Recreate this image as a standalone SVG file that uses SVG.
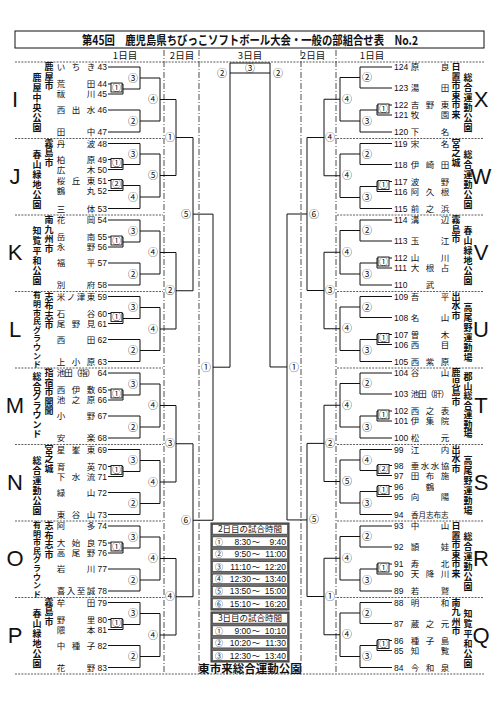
<svg xmlns="http://www.w3.org/2000/svg" width="500" height="707" viewBox="0 0 500 707">
<style>
.t{font-family:"Noto Sans CJK JP","Noto Sans CJK SC",sans-serif;font-size:8.5px;text-anchor:middle;fill:#111}
.n{font-family:"Liberation Sans",Arial,sans-serif;font-size:8.5px;fill:#111}
.ne{text-anchor:end}
.v{font-family:"Noto Sans CJK JP","Noto Sans CJK SC",sans-serif;font-size:9px;font-weight:bold;text-anchor:middle;fill:#111}
.vs{font-size:8px}
.L{font-family:"Liberation Sans",Arial,sans-serif;font-size:22px;text-anchor:middle;fill:#111}
.c{font-family:"Noto Sans CJK JP","Noto Sans CJK SC",sans-serif;font-size:10px;text-anchor:middle;fill:#111}
.cs{font-size:9px}
.h{font-family:"Noto Sans CJK JP","Noto Sans CJK SC",sans-serif;font-size:9.5px;text-anchor:middle;fill:#111}
.th{font-family:"Noto Sans CJK JP","Noto Sans CJK SC",sans-serif;font-size:8.5px;text-anchor:middle;fill:#111}
.tn{font-family:"Noto Sans CJK JP","Noto Sans CJK SC",sans-serif;font-size:8px;text-anchor:middle;fill:#111}
.b{fill:#fff;stroke:#111;stroke-width:0.9}
.br{fill:none;stroke:#111;stroke-width:1}
.dd{stroke:#222;stroke-width:0.8;stroke-dasharray:6 2 1 2;fill:none}
.ds{stroke:#333;stroke-width:0.8;stroke-dasharray:2 1.2;fill:none}
.tt{font-family:"Liberation Sans","Noto Sans CJK JP",sans-serif;font-size:8.5px;fill:#111}
.tc{fill:#fff;stroke:#333;stroke-width:0.6}
</style>
<rect width="500" height="707" fill="#fff"/>
<g id="title">
<rect x="15" y="31" width="469" height="17" fill="#fff" stroke="#111" stroke-width="1"/>
<text x="82" y="44.5" font-family="'Noto Sans CJK JP','Noto Sans CJK SC',sans-serif" font-size="12.5" font-weight="bold" textLength="336" lengthAdjust="spacingAndGlyphs" fill="#111">第45回　鹿児島県ちびっこソフトボール大会・一般の部組合せ表　No.2</text>
</g>
<g id="header">
<text class="h" x="125" y="58.5">1日目</text>
<text class="h" x="182" y="58.5">2日目</text>
<text class="h" x="250" y="58.5">3日目</text>
<text class="h" x="313" y="58.5">2日目</text>
<text class="h" x="372" y="58.5">1日目</text>
</g>
<g id="grid">
<path class="dd" d="M164 50V674M199 50V674M301 50V674M336 50V674"/>
<path class="ds" d="M15 62H484M15 674H484M15 138.5H163M15 215H163M15 291.5H163M15 368H163M15 444.5H163M15 521H163M15 597.5H163M337 138.5H484M337 215H484M337 291.5H484M337 368H484M337 444.5H484M337 521H484M337 597.5H484"/>
</g>
<g id="connectors" class="br">
<path d="M108 67H140V89H123M108 84H123V94H108M140 78H160V121H140M108 110H140V132H108M160 99.5H176"/>
<path d="M108 143.5H140V164.5H123M108 159.5H123V169.5H108M108 180.5H123V190.5H108M123 185.5H140V208.5H108M140 154H160V197H140M160 175.5H176"/>
<path d="M108 220H140V242H123M108 237H123V247H108M140 231H160V274H140M108 263H140V285H108M160 252.5H176"/>
<path d="M108 296.5H140V318.5H123M108 313.5H123V323.5H108M140 307.5H160V350.5H140M108 339.5H140V361.5H108M160 329H176"/>
<path d="M108 373H140V395H123M108 390H123V400H108M140 384H160V427H140M108 416H140V438H108M160 405.5H176"/>
<path d="M108 449.5H140V471.5H123M108 466.5H123V476.5H108M140 460.5H160V503.5H140M108 492.5H140V514.5H108M160 482H176"/>
<path d="M108 526H140V548H123M108 543H123V553H108M140 537H160V580H140M108 569H140V591H108M160 558.5H176"/>
<path d="M108 602.5H140V624.5H123M108 619.5H123V629.5H108M140 613.5H160V656.5H140M108 645.5H140V667.5H108M160 635H176"/>
<path d="M176 99.5V175.5M176 252.5V329M176 405.5V482M176 558.5V635M176 137.5H193M176 290.75H193M176 443.75H193M176 596.75H193M193 137.5V290.75M193 443.75V596.75M193 214.125H213M193 520.25H213M213 214.125V520.25M213 367.19H230M230 367.19V63H270V366.97M230 73H270"/>
<path d="M287 366.97H270M287 214V519.94M287 214H307M287 519.94H307M307 137.5V290.5M307 443.375V596.5M307 137.5H324M307 290.5H324M307 443.375H324M307 596.5H324M324 99.25V175.75M324 252.25V328.75M324 405.25V481.5M324 558.25V634.75"/>
<path d="M392 67H360V88H392M392 105H377V115H392M377 110H360V132H392M360 77.5H340V121H360M340 99.25H324"/>
<path d="M392 143.5H360V164.5H392M392 181.5H377V191.5H392M377 186.5H360V208.5H392M360 154H340V197.5H360M340 175.75H324"/>
<path d="M392 220H360V241H392M392 258H377V268H392M377 263H360V285H392M360 230.5H340V274H360M340 252.25H324"/>
<path d="M392 296.5H360V317.5H392M392 334.5H377V344.5H392M377 339.5H360V361.5H392M360 307H340V350.5H360M340 328.75H324"/>
<path d="M392 373H360V394H392M392 411H377V421H392M377 416H360V438H392M360 383.5H340V427H360M340 405.25H324"/>
<path d="M392 449.5H360V470.5H377M392 465.5H377V475.5H392M392 486.5H377V496.5H392M377 491.5H360V514.5H392M360 460H340V503H360M340 481.5H324"/>
<path d="M392 526H360V547H392M392 564H377V574H392M377 569H360V591H392M360 536.5H340V580H360M340 558.25H324"/>
<path d="M392 602.5H360V623.5H392M392 640.5H377V650.5H392M377 645.5H360V667.5H392M360 613H340V656.5H360M340 634.75H324"/>
</g>
<g id="match-boxes">
<rect class="b" x="111" y="83" width="11" height="9"/><text class="c cs" x="116.5" y="90.7">①</text>
<rect class="b" x="111" y="158.5" width="11" height="9"/><text class="c cs" x="116.5" y="166.2">①</text>
<rect class="b" x="111" y="179.5" width="11" height="9"/><text class="c cs" x="116.5" y="187.2">②</text>
<rect class="b" x="111" y="236" width="11" height="9"/><text class="c cs" x="116.5" y="243.7">①</text>
<rect class="b" x="111" y="312.5" width="11" height="9"/><text class="c cs" x="116.5" y="320.2">①</text>
<rect class="b" x="111" y="389" width="11" height="9"/><text class="c cs" x="116.5" y="396.7">①</text>
<rect class="b" x="111" y="465.5" width="11" height="9"/><text class="c cs" x="116.5" y="473.2">①</text>
<rect class="b" x="111" y="542" width="11" height="9"/><text class="c cs" x="116.5" y="549.7">①</text>
<rect class="b" x="111" y="618.5" width="11" height="9"/><text class="c cs" x="116.5" y="626.2">①</text>
<rect class="b" x="378" y="104" width="11" height="9"/><text class="c cs" x="383.5" y="111.7">①</text>
<rect class="b" x="378" y="180.5" width="11" height="9"/><text class="c cs" x="383.5" y="188.2">①</text>
<rect class="b" x="378" y="257" width="11" height="9"/><text class="c cs" x="383.5" y="264.7">①</text>
<rect class="b" x="378" y="333.5" width="11" height="9"/><text class="c cs" x="383.5" y="341.2">①</text>
<rect class="b" x="378" y="410" width="11" height="9"/><text class="c cs" x="383.5" y="417.7">①</text>
<rect class="b" x="378" y="464.5" width="11" height="9"/><text class="c cs" x="383.5" y="472.2">②</text>
<rect class="b" x="378" y="485.5" width="11" height="9"/><text class="c cs" x="383.5" y="493.2">①</text>
<rect class="b" x="378" y="563" width="11" height="9"/><text class="c cs" x="383.5" y="570.7">①</text>
<rect class="b" x="378" y="639.5" width="11" height="9"/><text class="c cs" x="383.5" y="647.2">①</text>
</g>
<g id="match-labels">
<text class="c" x="133" y="81.5">③</text><text class="c" x="133" y="124.5">②</text><text class="c" x="153" y="103">④</text>
<text class="c" x="133" y="157.5">③</text><text class="c" x="133" y="200.5">④</text><text class="c" x="153" y="179">⑤</text>
<text class="c" x="133" y="234.5">③</text><text class="c" x="133" y="277.5">②</text><text class="c" x="153" y="256">④</text>
<text class="c" x="133" y="311">③</text><text class="c" x="133" y="354">②</text><text class="c" x="153" y="332.5">④</text>
<text class="c" x="133" y="387.5">③</text><text class="c" x="133" y="430.5">②</text><text class="c" x="153" y="409">④</text>
<text class="c" x="133" y="464">③</text><text class="c" x="133" y="507">②</text><text class="c" x="153" y="485.5">④</text>
<text class="c" x="133" y="540.5">③</text><text class="c" x="133" y="583.5">②</text><text class="c" x="153" y="562">④</text>
<text class="c" x="133" y="617">③</text><text class="c" x="133" y="660">②</text><text class="c" x="153" y="638.5">④</text>
<text class="c" x="170" y="141">①</text><text class="c" x="170" y="294.25">②</text><text class="c" x="170" y="447.25">③</text><text class="c" x="170" y="600.25">④</text>
<text class="c" x="186" y="217.6">⑤</text><text class="c" x="186" y="523.75">⑥</text>
<text class="c" x="206" y="370.7">①</text><text class="c" x="222" y="76.5">②</text>
<text class="c" x="250" y="71.5">③</text>
<text class="c" x="278" y="76.5">②</text><text class="c" x="294" y="370.5">①</text>
<text class="c" x="314" y="217.5">⑥</text><text class="c" x="314" y="523.4">⑤</text>
<text class="c" x="330" y="141">④</text><text class="c" x="330" y="294">③</text><text class="c" x="330" y="446.9">②</text><text class="c" x="330" y="600">①</text>
<text class="c" x="367" y="81">②</text><text class="c" x="367" y="124.5">③</text><text class="c" x="347" y="102.75">④</text>
<text class="c" x="367" y="157.5">②</text><text class="c" x="367" y="201">③</text><text class="c" x="347" y="179.25">④</text>
<text class="c" x="367" y="234">②</text><text class="c" x="367" y="277.5">③</text><text class="c" x="347" y="255.75">④</text>
<text class="c" x="367" y="310.5">②</text><text class="c" x="367" y="354">③</text><text class="c" x="347" y="332.25">④</text>
<text class="c" x="367" y="387">②</text><text class="c" x="367" y="430.5">③</text><text class="c" x="347" y="408.75">④</text>
<text class="c" x="367" y="463.5">④</text><text class="c" x="367" y="506.5">③</text><text class="c" x="347" y="485">⑤</text>
<text class="c" x="367" y="540">②</text><text class="c" x="367" y="583.5">③</text><text class="c" x="347" y="561.75">④</text>
<text class="c" x="367" y="616.5">②</text><text class="c" x="367" y="660">③</text><text class="c" x="347" y="638.25">④</text>
</g>
<g id="group-I">
<text class="L" x="15" y="107">I</text>
<text class="v" x="49 49 49" y="70.2 79.7 89.2">鹿屋市</text>
<text class="v" x="37 37 37 37 37 37" y="81.2 91.2 101.2 111.2 121.2 131.2">鹿屋中央公園</text>
<text class="n ne" x="107" y="70">43</text><text class="t" x="61 76 91" y="70">いちき</text>
<text class="n ne" x="107" y="87">44</text><text class="t" x="61 91" y="87">荒田</text>
<text class="n ne" x="107" y="97">45</text><text class="t" x="61 91" y="97">祓川</text>
<text class="n ne" x="107" y="113">46</text><text class="t" x="61 76 91" y="113">西出水</text>
<text class="n ne" x="107" y="135">47</text><text class="t" x="61 91" y="135">田中</text>
</g>
<g id="group-J">
<text class="L" x="15" y="183.5">J</text>
<text class="v" x="49 49 49" y="146.7 156.2 165.7">霧島市</text>
<text class="v" x="37 37 37 37 37 37" y="157.7 167.7 177.7 187.7 197.7 207.7">春山緑地公園</text>
<text class="n ne" x="107" y="146.5">48</text><text class="t" x="61 91" y="146.5">丹波</text>
<text class="n ne" x="107" y="162.5">49</text><text class="t" x="61 91" y="162.5">柏原</text>
<text class="n ne" x="107" y="172.5">50</text><text class="t" x="61 91" y="172.5">広木</text>
<text class="n ne" x="107" y="183.5">51</text><text class="t" x="61 76 91" y="183.5">桜丘東</text>
<text class="n ne" x="107" y="193.5">52</text><text class="t" x="61 91" y="193.5">鶴丸</text>
<text class="n ne" x="107" y="211.5">53</text><text class="t" x="61 91" y="211.5">三体</text>
</g>
<g id="group-K">
<text class="L" x="15" y="260">K</text>
<text class="v" x="49 49 49 49" y="223.2 232.7 242.2 251.7">南九州市</text>
<text class="v" x="37 37 37 37 37 37" y="234.2 244.2 254.2 264.2 274.2 284.2">知覧平和公園</text>
<text class="n ne" x="107" y="223">54</text><text class="t" x="61 91" y="223">花岡</text>
<text class="n ne" x="107" y="240">55</text><text class="t" x="61 91" y="240">岳南</text>
<text class="n ne" x="107" y="250">56</text><text class="t" x="61 91" y="250">永野</text>
<text class="n ne" x="107" y="266">57</text><text class="t" x="61 91" y="266">福平</text>
<text class="n ne" x="107" y="288">58</text><text class="t" x="61 91" y="288">別府</text>
</g>
<g id="group-L">
<text class="L" x="15" y="336.5">L</text>
<text class="v" x="49 49 49 49" y="299.7 309.2 318.7 328.2">志布志市</text>
<text class="v vs" x="37 37 37 37 37 37 37 37 37" y="298.4 307 315.6 324.2 332.8 341.4 350 358.6 367.2">有明市民グラウンド</text>
<text class="n ne" x="107" y="299.5">59</text><text class="t" x="61 71 81 91" y="299.5">米ノ津東</text>
<text class="n ne" x="107" y="316.5">60</text><text class="t" x="61 91" y="316.5">石谷</text>
<text class="n ne" x="107" y="326.5">61</text><text class="t" x="61 76 91" y="326.5">尾野見</text>
<text class="n ne" x="107" y="342.5">62</text><text class="t" x="61 91" y="342.5">西田</text>
<text class="n ne" x="107" y="364.5">63</text><text class="t" x="61 76 91" y="364.5">上小原</text>
</g>
<g id="group-M">
<text class="L" x="15" y="413">M</text>
<text class="v" x="49 49 49 49 49" y="376.2 385.7 395.2 404.7 414.2">指宿市開聞</text>
<text class="v" x="37 37 37 37 37 37 37" y="380.2 389.7 399.2 408.7 418.2 427.7 437.2">総合グラウンド</text>
<text class="n ne" x="107" y="376">64</text><text class="t" x="61 68.5 76 83.5 91" y="376">池田（指）</text>
<text class="n ne" x="107" y="393">65</text><text class="t" x="61 76 91" y="393">西伊敷</text>
<text class="n ne" x="107" y="403">66</text><text class="t" x="61 76 91" y="403">池之原</text>
<text class="n ne" x="107" y="419">67</text><text class="t" x="61 91" y="419">小野</text>
<text class="n ne" x="107" y="441">68</text><text class="t" x="61 91" y="441">安楽</text>
</g>
<g id="group-N">
<text class="L" x="15" y="489.5">N</text>
<text class="v" x="49 49 49" y="452.7 462.2 471.7">宮之城</text>
<text class="v" x="37 37 37 37 37 37" y="463.7 473.7 483.7 493.7 503.7 513.7">総合運動公園</text>
<text class="n ne" x="107" y="452.5">69</text><text class="t" x="61 76 91" y="452.5">星峯東</text>
<text class="n ne" x="107" y="469.5">70</text><text class="t" x="61 91" y="469.5">育英</text>
<text class="n ne" x="107" y="479.5">71</text><text class="t" x="61 76 91" y="479.5">下水流</text>
<text class="n ne" x="107" y="495.5">72</text><text class="t" x="61 91" y="495.5">緑山</text>
<text class="n ne" x="107" y="517.5">73</text><text class="t" x="61 76 91" y="517.5">東谷山</text>
</g>
<g id="group-O">
<text class="L" x="15" y="566">O</text>
<text class="v" x="49 49 49 49" y="529.2 538.7 548.2 557.7">志布志市</text>
<text class="v vs" x="37 37 37 37 37 37 37 37 37" y="527.9 536.5 545.1 553.7 562.3 570.9 579.5 588.1 596.7">有明市民グラウンド</text>
<text class="n ne" x="107" y="529">74</text><text class="t" x="61 91" y="529">阿多</text>
<text class="n ne" x="107" y="546">75</text><text class="t" x="61 76 91" y="546">大始良</text>
<text class="n ne" x="107" y="556">76</text><text class="t" x="61 76 91" y="556">高尾野</text>
<text class="n ne" x="107" y="572">77</text><text class="t" x="61 91" y="572">岩川</text>
<text class="n ne" x="107" y="594">78</text><text class="t" x="61 71 81 91" y="594">喜入至誠</text>
</g>
<g id="group-P">
<text class="L" x="15" y="642.5">P</text>
<text class="v" x="49 49 49" y="605.7 615.2 624.7">霧島市</text>
<text class="v" x="37 37 37 37 37 37" y="616.7 626.7 636.7 646.7 656.7 666.7">春山緑地公園</text>
<text class="n ne" x="107" y="605.5">79</text><text class="t" x="61 91" y="605.5">牟田</text>
<text class="n ne" x="107" y="622.5">80</text><text class="t" x="61 91" y="622.5">野里</text>
<text class="n ne" x="107" y="632.5">81</text><text class="t" x="61 91" y="632.5">隈本</text>
<text class="n ne" x="107" y="648.5">82</text><text class="t" x="61 76 91" y="648.5">中種子</text>
<text class="n ne" x="107" y="670.5">83</text><text class="t" x="61 91" y="670.5">花野</text>
</g>
<g id="group-X">
<text class="L" x="481" y="107">X</text>
<text class="v" x="456 456 456 456 456 456" y="70.2 79.7 89.2 98.7 108.2 117.7">日置市東市来</text>
<text class="v" x="468 468 468 468 468 468" y="81.2 91.2 101.2 111.2 121.2 131.2">総合運動公園</text>
<text class="n" x="394" y="70">124</text><text class="t" x="415 445" y="70">原良</text>
<text class="n" x="394" y="91">123</text><text class="t" x="415 445" y="91">湯田</text>
<text class="n" x="394" y="108">122</text><text class="t" x="415 430 445" y="108">吉野東</text>
<text class="n" x="394" y="118">121</text><text class="t" x="415 445" y="118">牧園</text>
<text class="n" x="394" y="135">120</text><text class="t" x="415 445" y="135">下名</text>
</g>
<g id="group-W">
<text class="L" x="481" y="183.5">W</text>
<text class="v" x="456 456 456" y="146.7 156.2 165.7">宮之城</text>
<text class="v" x="468 468 468 468 468 468" y="157.7 167.7 177.7 187.7 197.7 207.7">総合運動公園</text>
<text class="n" x="394" y="146.5">119</text><text class="t" x="415 445" y="146.5">宋名</text>
<text class="n" x="394" y="167.5">118</text><text class="t" x="415 430 445" y="167.5">伊崎田</text>
<text class="n" x="394" y="184.5">117</text><text class="t" x="415 445" y="184.5">波野</text>
<text class="n" x="394" y="194.5">116</text><text class="t" x="415 430 445" y="194.5">阿久根</text>
<text class="n" x="394" y="211.5">115</text><text class="t" x="415 430 445" y="211.5">前之浜</text>
</g>
<g id="group-V">
<text class="L" x="481" y="260">V</text>
<text class="v" x="456 456 456" y="223.2 232.7 242.2">霧島市</text>
<text class="v" x="468 468 468 468 468 468" y="234.2 244.2 254.2 264.2 274.2 284.2">春山緑地公園</text>
<text class="n" x="394" y="223">114</text><text class="t" x="415 445" y="223">溝辺</text>
<text class="n" x="394" y="244">113</text><text class="t" x="415 445" y="244">玉江</text>
<text class="n" x="394" y="261">112</text><text class="t" x="415 445" y="261">山川</text>
<text class="n" x="394" y="271">111</text><text class="t" x="415 430 445" y="271">大根占</text>
<text class="n" x="394" y="288">110</text><text class="t" x="430" y="288">武</text>
</g>
<g id="group-U">
<text class="L" x="481" y="336.5">U</text>
<text class="v" x="456 456 456" y="299.7 309.2 318.7">出水市</text>
<text class="v" x="468 468 468 468 468 468" y="310.7 320.7 330.7 340.7 350.7 360.7">高尾野運動場</text>
<text class="n" x="394" y="299.5">109</text><text class="t" x="415 445" y="299.5">吾平</text>
<text class="n" x="394" y="320.5">108</text><text class="t" x="415 445" y="320.5">名山</text>
<text class="n" x="394" y="337.5">107</text><text class="t" x="415 445" y="337.5">曽木</text>
<text class="n" x="394" y="347.5">106</text><text class="t" x="415 445" y="347.5">西目</text>
<text class="n" x="394" y="364.5">105</text><text class="t" x="415 430 445" y="364.5">西紫原</text>
</g>
<g id="group-T">
<text class="L" x="481" y="413">T</text>
<text class="v" x="456 456 456 456" y="376.2 385.7 395.2 404.7">鹿児島市</text>
<text class="v" x="468 468 468 468 468 468 468" y="380.2 389.7 399.2 408.7 418.2 427.7 437.2">郡山総合運動場</text>
<text class="n" x="394" y="376">104</text><text class="t" x="415 445" y="376">谷山</text>
<text class="n" x="394" y="397">103</text><text class="t" x="415 422.5 430 437.5 445" y="397">池田（肝）</text>
<text class="n" x="394" y="414">102</text><text class="t" x="415 430 445" y="414">西之表</text>
<text class="n" x="394" y="424">101</text><text class="t" x="415 430 445" y="424">伊集院</text>
<text class="n" x="394" y="441">100</text><text class="t" x="415 445" y="441">松元</text>
</g>
<g id="group-S">
<text class="L" x="481" y="489.5">S</text>
<text class="v" x="456 456 456" y="452.7 462.2 471.7">出水市</text>
<text class="v" x="468 468 468 468 468 468" y="463.7 473.7 483.7 493.7 503.7 513.7">高尾野運動場</text>
<text class="n" x="394" y="452.5">99</text><text class="t" x="415 445" y="452.5">江内</text>
<text class="n" x="394" y="468.5">98</text><text class="t" x="415 425 435 445" y="468.5">垂水水協</text>
<text class="n" x="394" y="478.5">97</text><text class="t" x="415 430 445" y="478.5">田布施</text>
<text class="n" x="394" y="489.5">96</text><text class="t" x="430" y="489.5">鶴</text>
<text class="n" x="394" y="499.5">95</text><text class="t" x="415 445" y="499.5">向陽</text>
<text class="n" x="394" y="517.5">94</text><text x="411" y="517.5" font-family="'Noto Sans CJK JP',sans-serif" font-size="7.5" fill="#111">香月志布志</text>
</g>
<g id="group-R">
<text class="L" x="481" y="566">R</text>
<text class="v" x="456 456 456 456 456 456" y="529.2 538.7 548.2 557.7 567.2 576.7">日置市東市来</text>
<text class="v" x="468 468 468 468 468 468" y="540.2 550.2 560.2 570.2 580.2 590.2">総合運動公園</text>
<text class="n" x="394" y="529">93</text><text class="t" x="415 445" y="529">中山</text>
<text class="n" x="394" y="550">92</text><text class="t" x="415 445" y="550">頴娃</text>
<text class="n" x="394" y="567">91</text><text class="t" x="415 445" y="567">寿北</text>
<text class="n" x="394" y="577">90</text><text class="t" x="415 430 445" y="577">天降川</text>
<text class="n" x="394" y="594">89</text><text class="t" x="415 445" y="594">若鷲</text>
</g>
<g id="group-Q">
<text class="L" x="481" y="642.5">Q</text>
<text class="v" x="456 456 456 456" y="605.7 615.2 624.7 634.2">南九州市</text>
<text class="v" x="468 468 468 468 468 468" y="616.7 626.7 636.7 646.7 656.7 666.7">知覧平和公園</text>
<text class="n" x="394" y="605.5">88</text><text class="t" x="415 445" y="605.5">明和</text>
<text class="n" x="394" y="626.5">87</text><text class="t" x="415 430 445" y="626.5">蔵之元</text>
<text class="n" x="394" y="643.5">86</text><text class="t" x="415 430 445" y="643.5">種子島</text>
<text class="n" x="394" y="653.5">85</text><text class="t" x="415 445" y="653.5">知覧</text>
<text class="n" x="394" y="670.5">84</text><text class="t" x="415 430 445" y="670.5">今和泉</text>
</g>
<g id="timetable">
<rect x="211" y="523" width="78" height="87" fill="#6e6e6e" stroke="#333"/>
<rect class="tc" x="212.5" y="524.5" width="75" height="9.6"/>
<rect class="tc" x="212.5" y="536.9" width="75" height="9.6"/>
<rect class="tc" x="212.5" y="549.3" width="75" height="9.6"/>
<rect class="tc" x="212.5" y="561.7" width="75" height="9.6"/>
<rect class="tc" x="212.5" y="574.1" width="75" height="9.6"/>
<rect class="tc" x="212.5" y="586.5" width="75" height="9.6"/>
<rect class="tc" x="212.5" y="598.9" width="75" height="9.6"/>
<text class="th" x="250" y="532.3">2日目の試合時間</text>
<text class="tn" x="219" y="544.7">①</text><text class="tt" x="251" y="544.7" text-anchor="end">8:30</text><text class="tt" x="256" y="544.7" text-anchor="middle">～</text><text class="tt" x="286" y="544.7" text-anchor="end">9:40</text>
<text class="tn" x="219" y="557.1">②</text><text class="tt" x="251" y="557.1" text-anchor="end">9:50</text><text class="tt" x="256" y="557.1" text-anchor="middle">～</text><text class="tt" x="286" y="557.1" text-anchor="end">11:00</text>
<text class="tn" x="219" y="569.5">③</text><text class="tt" x="251" y="569.5" text-anchor="end">11:10</text><text class="tt" x="256" y="569.5" text-anchor="middle">～</text><text class="tt" x="286" y="569.5" text-anchor="end">12:20</text>
<text class="tn" x="219" y="581.9">④</text><text class="tt" x="251" y="581.9" text-anchor="end">12:30</text><text class="tt" x="256" y="581.9" text-anchor="middle">～</text><text class="tt" x="286" y="581.9" text-anchor="end">13:40</text>
<text class="tn" x="219" y="594.3">⑤</text><text class="tt" x="251" y="594.3" text-anchor="end">13:50</text><text class="tt" x="256" y="594.3" text-anchor="middle">～</text><text class="tt" x="286" y="594.3" text-anchor="end">15:00</text>
<text class="tn" x="219" y="606.7">⑥</text><text class="tt" x="251" y="606.7" text-anchor="end">15:10</text><text class="tt" x="256" y="606.7" text-anchor="middle">～</text><text class="tt" x="286" y="606.7" text-anchor="end">16:20</text>
<rect x="211" y="612" width="78" height="50" fill="#6e6e6e" stroke="#333"/>
<rect class="tc" x="212.5" y="613.5" width="75" height="9.6"/>
<rect class="tc" x="212.5" y="625.9" width="75" height="9.6"/>
<rect class="tc" x="212.5" y="638.3" width="75" height="9.6"/>
<rect class="tc" x="212.5" y="650.7" width="75" height="9.6"/>
<text class="th" x="250" y="621.3">3日目の試合時間</text>
<text class="tn" x="219" y="633.7">①</text><text class="tt" x="251" y="633.7" text-anchor="end">9:00</text><text class="tt" x="256" y="633.7" text-anchor="middle">～</text><text class="tt" x="286" y="633.7" text-anchor="end">10:10</text>
<text class="tn" x="219" y="646.1">②</text><text class="tt" x="251" y="646.1" text-anchor="end">10:20</text><text class="tt" x="256" y="646.1" text-anchor="middle">～</text><text class="tt" x="286" y="646.1" text-anchor="end">11:30</text>
<text class="tn" x="219" y="658.5">③</text><text class="tt" x="251" y="658.5" text-anchor="end">12:30</text><text class="tt" x="256" y="658.5" text-anchor="middle">～</text><text class="tt" x="286" y="658.5" text-anchor="end">13:40</text>
<text x="250" y="673" text-anchor="middle" font-family="'Noto Sans CJK JP','Noto Sans CJK SC',sans-serif" font-size="11.5" font-weight="bold" fill="#111">東市来総合運動公園</text>
</g>
</svg>
